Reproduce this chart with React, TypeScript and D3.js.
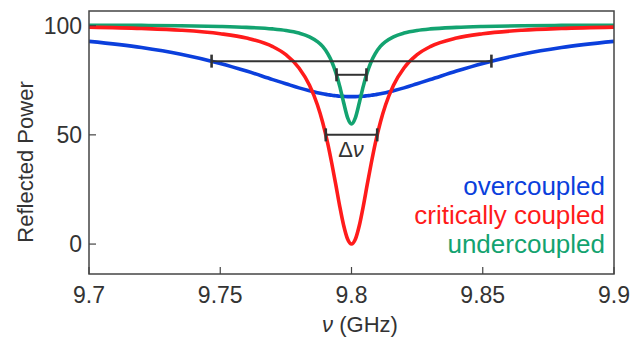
import React from "react";
import * as d3 from "d3";

// frequency grid (GHz), denser near the resonance
const freqs = [
  9.7, 9.72, 9.735, 9.75, 9.76, 9.77, 9.775, 9.78, 9.784, 9.787, 9.789, 9.791,
  9.7925, 9.794, 9.7955, 9.797, 9.7985, 9.8, 9.8015, 9.803, 9.8045, 9.806,
  9.8075, 9.809, 9.811, 9.813, 9.816, 9.82, 9.825, 9.83, 9.84, 9.85, 9.865,
  9.88, 9.9,
];

const overcoupled = [
  92.8, 90.0, 86.9, 82.7, 79.2, 75.3, 73.4, 71.5, 70.2, 69.3, 68.8, 68.4, 68.1,
  67.9, 67.7, 67.6, 67.5, 67.5, 67.5, 67.6, 67.7, 67.9, 68.1, 68.4, 68.8, 69.3,
  70.2, 71.5, 73.4, 75.3, 79.2, 82.7, 86.9, 90.0, 92.8,
];

const critical = [
  99.3, 98.7, 97.9, 96.3, 94.3, 90.4, 86.7, 80.6, 72.7, 63.8, 55.8, 45.8, 36.9,
  27.3, 17.4, 8.6, 2.3, 0, 2.3, 8.6, 17.4, 27.3, 36.9, 45.8, 55.8, 63.8, 72.7,
  80.6, 86.7, 90.4, 94.3, 96.3, 97.9, 98.7, 99.3,
];

const undercoupled = [
  100.2, 100.1, 99.95, 99.6, 99.2, 98.5, 97.8, 96.6, 94.9, 92.7, 90.5, 87.1,
  83.5, 78.6, 72.3, 64.8, 57.9, 55, 57.9, 64.8, 72.3, 78.6, 83.5, 87.1, 90.5,
  92.7, 94.9, 96.6, 97.8, 98.5, 99.2, 99.6, 99.95, 100.1, 100.2,
];

// linewidth markers: [start, end, level]
const widthBars: [number, number, number][] = [
  [9.7467, 9.8533, 83.75],
  [9.7943, 9.8057, 77.5],
  [9.7902, 9.8098, 50],
];

const xTicks = [9.7, 9.75, 9.8, 9.85, 9.9];
const yTicks = [0, 50, 100];

const legend = [
  { label: "overcoupled", color: "#0b3fdc" },
  { label: "critically coupled", color: "#ff1b1b" },
  { label: "undercoupled", color: "#13a370" },
];

const W = 632;
const H = 338;
const left = 89;
const right = 614;
const top = 11;
const bottom = 274;
const font = "'Liberation Sans', Arial, sans-serif";

export default function App() {
  const x = d3.scaleLinear().domain([9.7, 9.9]).range([left, right]);
  const y = d3.scaleLinear().domain([-13.7, 106.7]).range([bottom, top]);

  const line = d3
    .line<number>()
    .x((_, i) => x(freqs[i]))
    .y((d) => y(d))
    .curve(d3.curveMonotoneX);

  const series = [
    { values: overcoupled, color: legend[0].color },
    { values: undercoupled, color: legend[2].color },
    { values: critical, color: legend[1].color },
  ];

  return (
    <svg
      width={W}
      height={H}
      style={{ position: "absolute", left: 0, top: 0, background: "#fff" }}
      fontFamily={font}
    >
      <defs>
        <clipPath id="plot">
          <rect x={left} y={top} width={right - left} height={bottom - top} />
        </clipPath>
      </defs>

      <g clipPath="url(#plot)">
        {series.map((s, i) => (
          <path
            key={i}
            d={line(s.values) || ""}
            fill="none"
            stroke={s.color}
            strokeWidth={3.6}
            strokeLinejoin="round"
          />
        ))}
      </g>

      {widthBars.map(([a, b, lv], i) => (
        <g key={i} stroke="#333">
          <line x1={x(a)} x2={x(b)} y1={y(lv)} y2={y(lv)} strokeWidth={2} />
          <line x1={x(a)} x2={x(a)} y1={y(lv) - 6.5} y2={y(lv) + 6.5} strokeWidth={2.6} />
          <line x1={x(b)} x2={x(b)} y1={y(lv) - 6.5} y2={y(lv) + 6.5} strokeWidth={2.6} />
        </g>
      ))}

      <text x={351} y={157} fontSize={22} textAnchor="middle" fill="#333">
        Δ<tspan fontStyle="italic">ν</tspan>
      </text>

      {/* frame */}
      <rect
        x={left}
        y={top}
        width={right - left}
        height={bottom - top}
        fill="none"
        stroke="#444"
        strokeWidth={1.5}
      />

      {xTicks.map((t) => (
        <g key={t}>
          <line x1={x(t)} x2={x(t)} y1={bottom} y2={bottom - 7} stroke="#444" strokeWidth={1.2} />
          <text x={x(t)} y={303} fontSize={23} textAnchor="middle" fill="#333">
            {t}
          </text>
        </g>
      ))}
      {yTicks.map((t) => (
        <g key={t}>
          <line x1={left} x2={left + 7} y1={y(t)} y2={y(t)} stroke="#444" strokeWidth={1.2} />
          <text x={82} y={y(t) + 8} fontSize={23} textAnchor="end" fill="#333">
            {t}
          </text>
        </g>
      ))}

      <text
        transform={`translate(33,162) rotate(-90)`}
        fontSize={22}
        textAnchor="middle"
        fill="#333"
      >
        Reflected Power
      </text>
      <text x={360} y={332} fontSize={22} textAnchor="middle" fill="#333">
        <tspan fontStyle="italic">ν</tspan> (GHz)
      </text>

      {legend.map((l, i) => (
        <text
          key={l.label}
          x={605}
          y={195 + i * 29}
          fontSize={26}
          textAnchor="end"
          fill={l.color}
        >
          {l.label}
        </text>
      ))}
    </svg>
  );
}
